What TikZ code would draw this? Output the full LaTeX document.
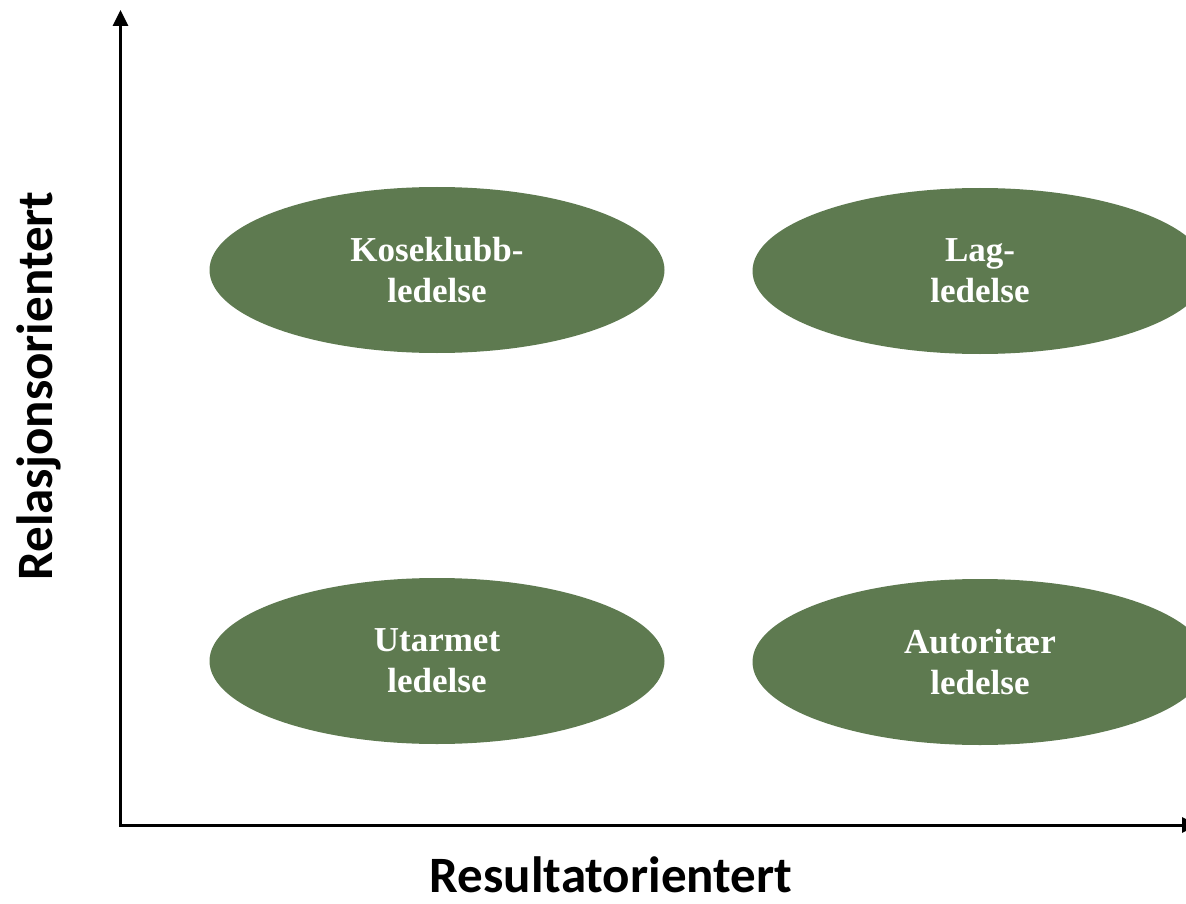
\documentclass[tikz,border=0pt]{standalone}
\usepackage{fontspec}
\newfontfamily\timesfont{Liberation Serif}
\newfontfamily\calfont{Carlito}
\usetikzlibrary{shapes.geometric,arrows.meta}
\definecolor{boxgreen}{RGB}{94,122,80}
\tikzset{
  axisline/.style={line width=3pt,-{Triangle[width=15pt,length=16pt]}},
  quad/.style={ellipse,fill=boxgreen,minimum width=455pt,minimum height=166pt,inner sep=0pt,
    text=white,align=center,font=\timesfont\bfseries\fontsize{35}{41}\selectfont},
  axislabel/.style={font=\calfont\bfseries\fontsize{51}{60}\selectfont,anchor=base}
}
\begin{document}
\begin{tikzpicture}[x=1pt,y=-1pt]
\useasboundingbox (0,0) rectangle (1186,904);
\coordinate (vbot) at (120.5,827);
\coordinate (vtop) at (120.5,10);
\coordinate (hleft) at (122,825);
\coordinate (hright) at (1198,825);
\draw[axisline] (vbot) -- (vtop);
\draw[axisline] (hleft) -- (hright);
\node[quad] (kos) at (437,270) {Koseklubb-\\ledelse};
\node[quad] (lag) at (980,271) {Lag-\\ledelse};
\node[quad] (uta) at (437,661) {Utarmet\\ledelse};
\node[quad] (aut) at (980,662) {Autoritær\\ledelse};
\node[axislabel] (ylab) at (52,386) [rotate=90] {Relasjonsorientert};
\node[axislabel] (xlab) at (611,892) {Resultatorientert};
\end{tikzpicture}
\end{document}
